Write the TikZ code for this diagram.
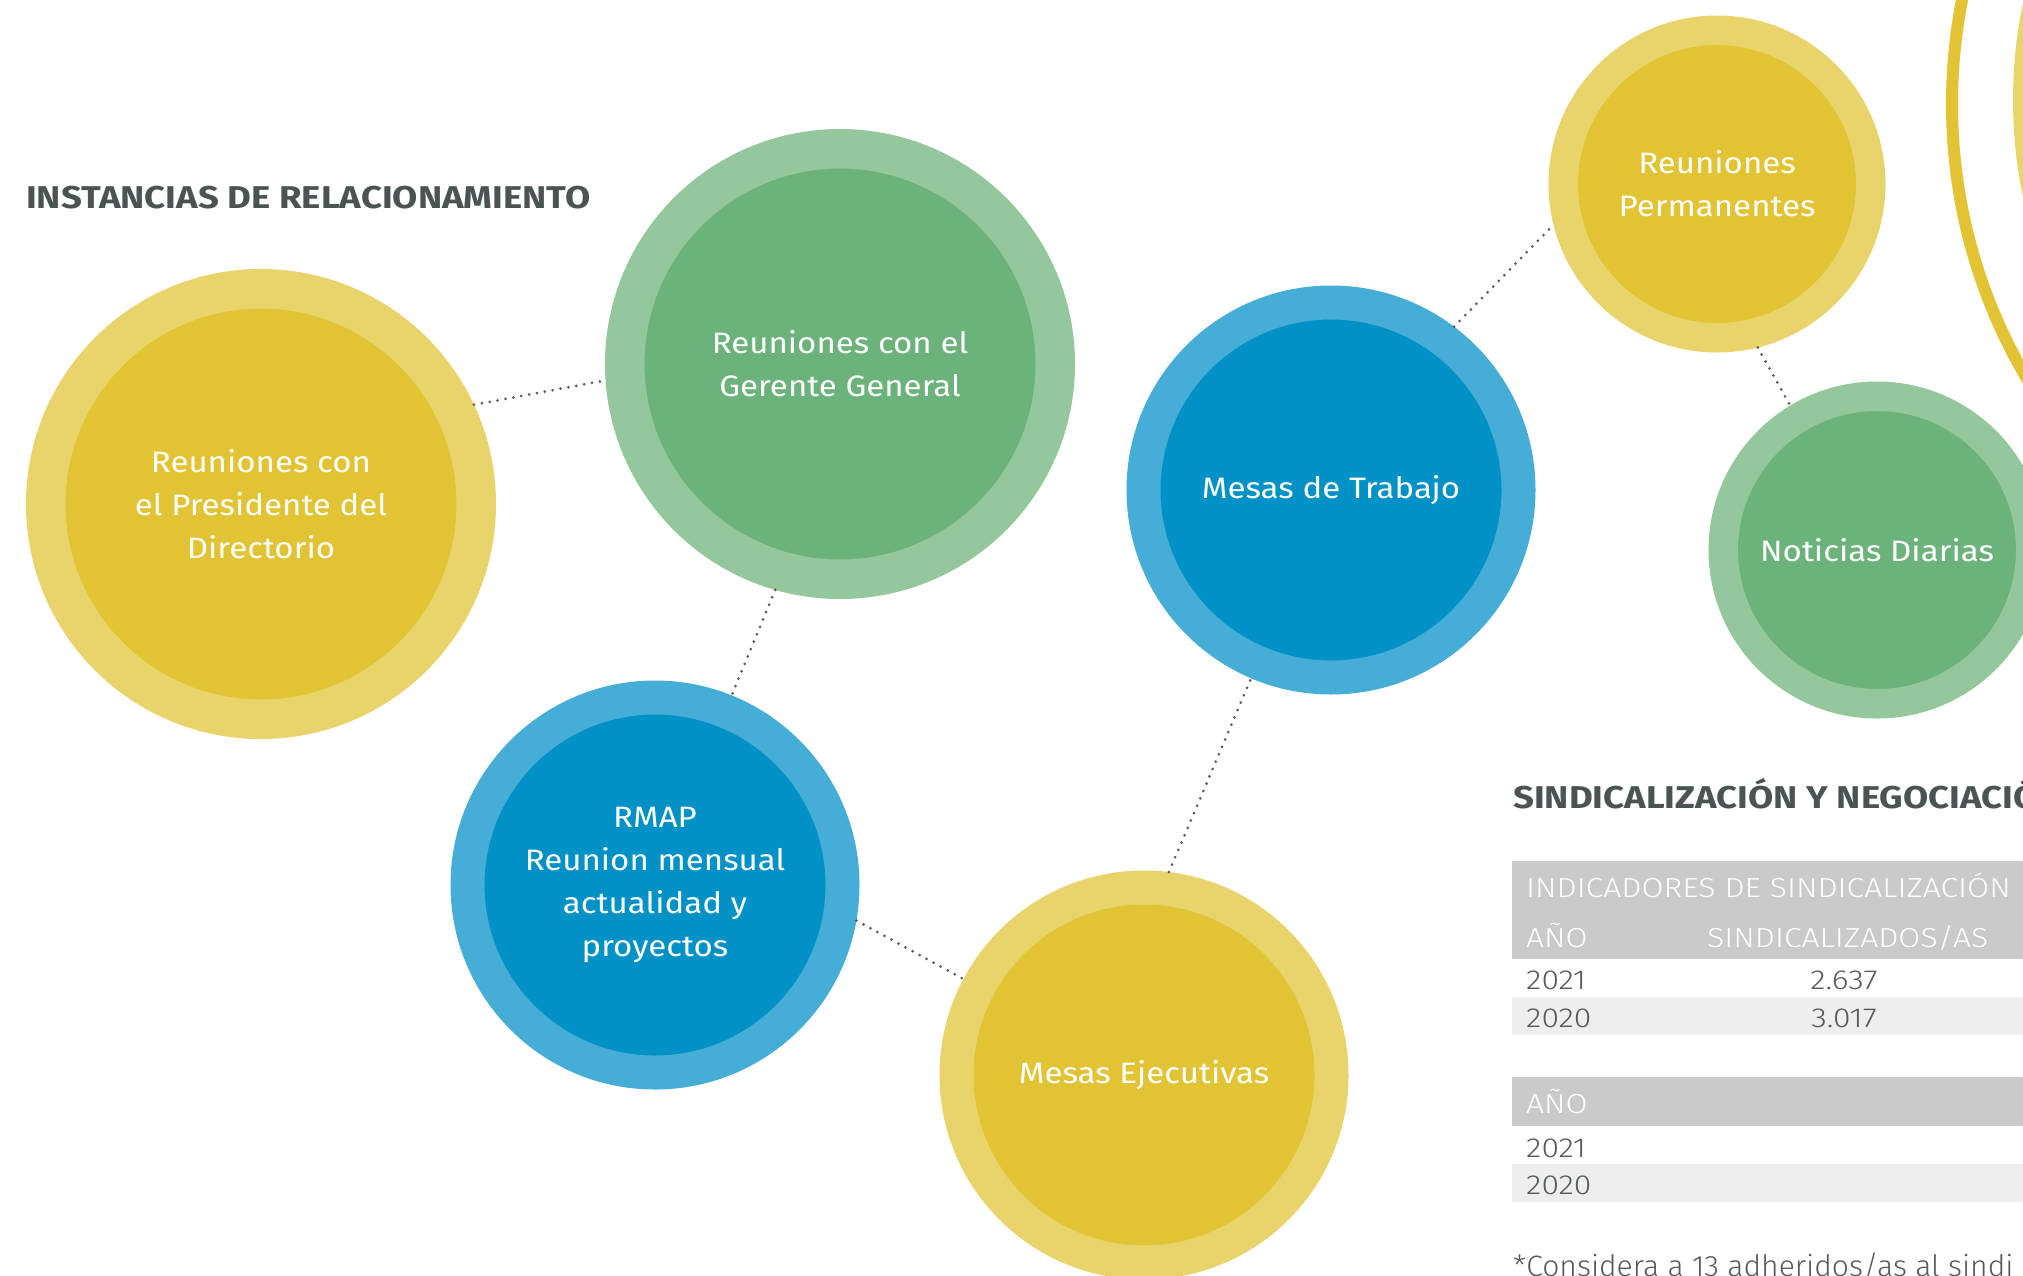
\documentclass[tikz,border=0pt]{standalone}
\usepackage{fontspec}
\setmainfont{Fira Sans}
\newfontfamily\circfont{Fira Sans}[FakeStretch=1.12]
\newfontfamily\titlefont{Fira Sans Bold}[FakeStretch=1.16]
\newfontfamily\lightfont{Fira Sans Light}[FakeStretch=1.16]
\newfontfamily\notefont{Fira Sans Light}[FakeStretch=1.02]
\definecolor{ydark}{HTML}{E1C333}
\definecolor{ylight}{HTML}{E9D36B}
\definecolor{gdark}{HTML}{6BB37A}
\definecolor{glight}{HTML}{94C79B}
\definecolor{bdark}{HTML}{0091C6}
\definecolor{blight}{HTML}{45ADD6}
\definecolor{dotgrey}{HTML}{5A5A5A}
\definecolor{titlegrey}{HTML}{4B5353}
\definecolor{tabtext}{HTML}{555A5A}
\definecolor{headgrey}{HTML}{C9CAC9}
\definecolor{bandgrey}{HTML}{EDEEED}
\tikzset{
  ringbig/.style={circle, inner sep=0pt, minimum size=430.5pt, line width=39.5pt, outer sep=19.75pt},
  ringmid/.style={circle, inner sep=0pt, minimum size=375pt, line width=34pt, outer sep=17pt},
  ringsmall/.style={circle, inner sep=0pt, minimum size=307.5pt, line width=29.5pt, outer sep=14.75pt},
  ctext/.style={text=white, align=center, font=\circfont\fontsize{29.5}{43}\selectfont},
  yel/.style={fill=ydark, draw=ylight},
  grn/.style={fill=gdark, draw=glight},
  blu/.style={fill=bdark, draw=blight},
  dots/.style={draw=dotgrey, line width=3pt, line cap=round, dash pattern=on 0pt off 8pt},
  title/.style={anchor=base west, inner sep=0pt, text=titlegrey, font=\titlefont\fontsize{31.5}{36}\selectfont},
  tab/.style={anchor=base west, inner sep=0pt, text=tabtext, font=\lightfont\fontsize{27.5}{32}\selectfont},
  tabc/.style={anchor=base, inner sep=0pt, text=tabtext, font=\lightfont\fontsize{27.5}{32}\selectfont},
  tabh/.style={anchor=base west, inner sep=0pt, text=white, font=\lightfont\fontsize{27.5}{32}\selectfont},
  note/.style={anchor=base west, inner sep=0pt, text=tabtext, font=\notefont\fontsize{29.5}{34}\selectfont},
}
\begin{document}
\begin{tikzpicture}[x=1pt,y=-1pt]
\useasboundingbox (0,0) rectangle (2023,1275);
\clip (0,0) rectangle (2023,1275);
\fill[white] (0,0) rectangle (2023,1275);
% big partial circle top right
\fill[ylight] (2490,100) circle (477);
\draw[ydark, line width=12pt] (2492,104) circle (540);
% title
\node[title] (t1) at (26,208) {INSTANCIAS DE RELACIONAMIENTO};
% circles
\node[ringbig, yel, ctext] (pres) at (261,504) {Reuniones con\\el Presidente del\\Directorio};
\node[ringbig, grn, ctext] (ger) at (840,364) {Reuniones con el\\Gerente General};
\node[ringmid, blu, ctext] (trab) at (1331,490) {Mesas de Trabajo};
\node[ringsmall, yel, ctext] (perm) at (1717,184) {Reuniones\\Permanentes};
\node[ringsmall, grn, ctext] (noti) at (1877,550) {Noticias Diarias};
\node[ringmid, blu, ctext] (rmap) at (655,885) {RMAP\\Reunion mensual\\actualidad y\\proyectos};
\node[ringmid, yel, ctext] (ejec) at (1144,1075) {Mesas Ejecutivas};
% connectors
\draw[dots] (pres.25.7) -- (ger.184.3);
\draw[dots] (ger.254) -- (rmap.68);
\draw[dots] (rmap.-10) -- (ejec.152);
\draw[dots] (ejec.83) -- (trab.247.7);
\draw[dots] (trab.53) -- (perm.194);
\draw[dots] (perm.284) -- (noti.121);
% second title
\node[title] (t2) at (1513,808) {SINDICALIZACIÓN Y NEGOCIACIÓN};
% table 1
\fill[headgrey] (1512,861) rectangle (2023,959);
\fill[bandgrey] (1512,997) rectangle (2023,1035);
\node[tabh] (h1) at (1526,897) {INDICADORES DE SINDICALIZACIÓN};
\node[tabh] (h2) at (1526,947) {AÑO};
\node[tabh] (h3) at (1707,947) {SINDICALIZADOS/AS};
\node[tab] (r1) at (1526,989) {2021};
\node[tabc] (v1) at (1844,989) {2.637};
\node[tab] (r2) at (1526,1027) {2020};
\node[tabc] (v2) at (1844,1027) {3.017};
% table 2
\fill[headgrey] (1512,1077) rectangle (2023,1126);
\fill[bandgrey] (1512,1164) rectangle (2023,1202);
\node[tabh] (h4) at (1526,1113) {AÑO};
\node[tab] (r3) at (1526,1157) {2021};
\node[tab] (r4) at (1526,1194) {2020};
% footnote
\node[note] (fn) at (1513,1276) {*Considera a 13 adheridos/as al sindi};
\end{tikzpicture}
\end{document}
